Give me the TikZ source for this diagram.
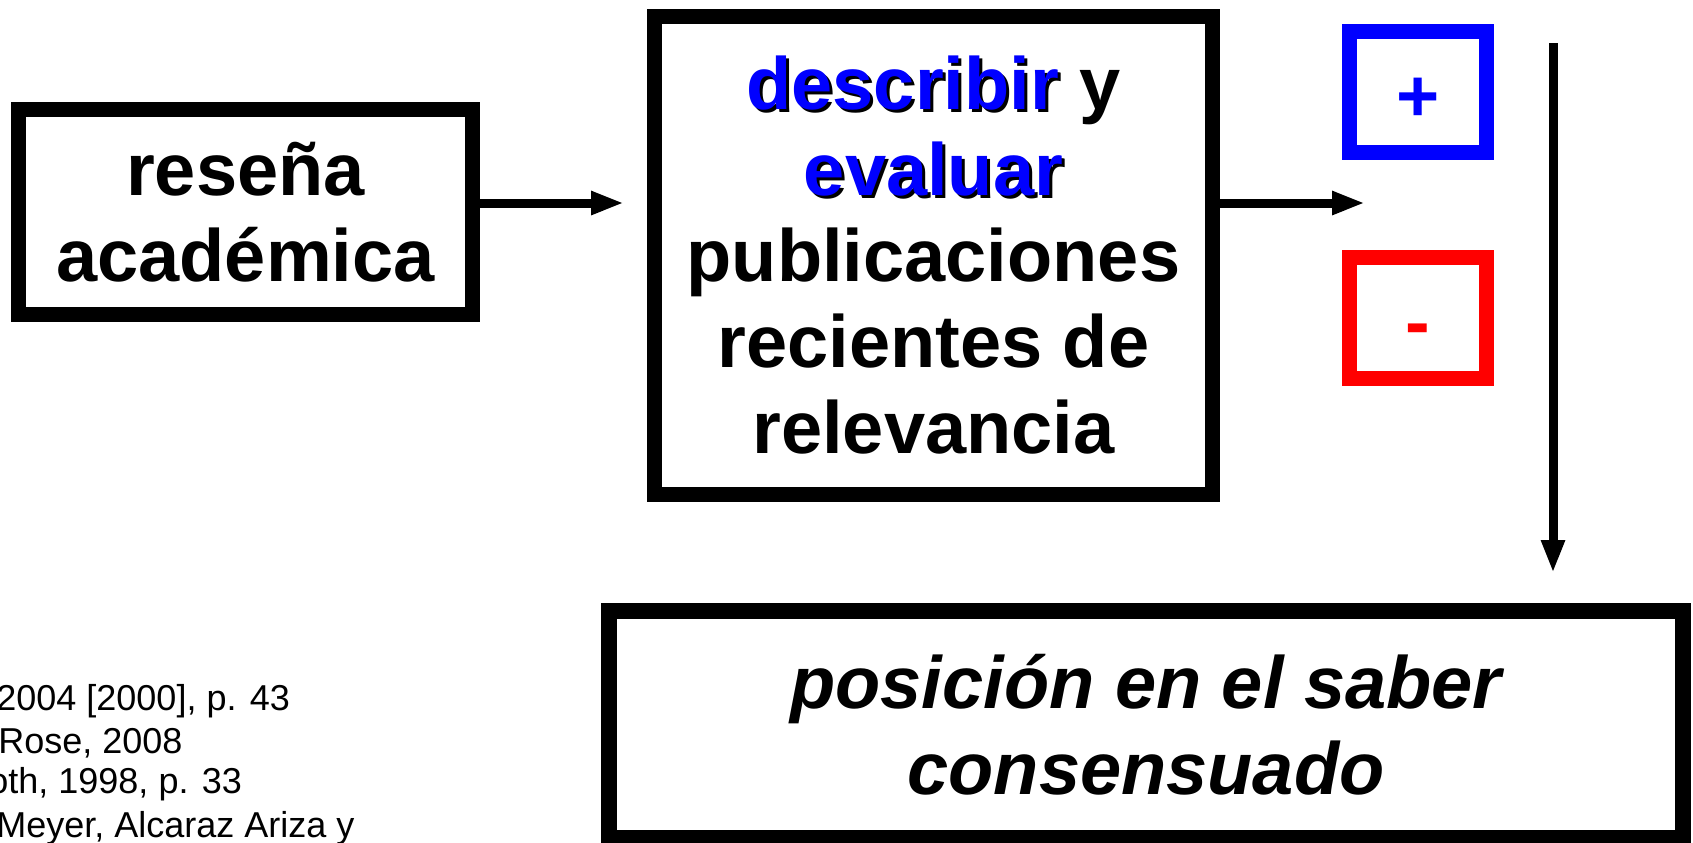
\documentclass[tikz,border=0pt]{standalone}
\usepackage{fontspec}
\setmainfont{Liberation Sans}
\usetikzlibrary{arrows.meta}
\newcommand\sombra[1]{\makebox[0pt][l]{\kern1.5pt\raisebox{-1.5pt}{\color{black}#1}}\textcolor{blue}{#1}}

\begin{document}
\begin{tikzpicture}[x=0.5pt,y=-0.5pt,
	caja/.style={rectangle,draw,line width=7.5pt,inner sep=0pt,align=center,font=\bfseries\fontsize{37}{43}\selectfont},
	signo/.style={rectangle,draw,line width=7.5pt,inner sep=0pt,minimum width=68.5pt,minimum height=60.5pt,text height=33pt,text depth=4pt,font=\bfseries\fontsize{37}{43}\selectfont},
	flecha/.style={line width=4.5pt,-{Triangle[length=16.5pt,width=11pt]}},
	fuente/.style={anchor=base west,inner sep=0pt,font=\fontsize{18}{21}\selectfont}]
\useasboundingbox (0,0) rectangle (1693,842);
\node[caja,minimum width=227pt,minimum height=102.5pt] (resena) at (245.5,212) {reseña\\académica};
\node[caja,minimum width=279pt,minimum height=239pt] (tarea) at (933.5,255.5) {\sombra{describir} y\\\sombra{evaluar}\\publicaciones\\recientes de\\relevancia};
\node[signo,draw=blue,text=blue] (mas) at (1418,92) {+};
\node[signo,draw=red,text=red] (menos) at (1418,318) {-};
\node[caja,line width=8pt,minimum width=537pt,minimum height=113.5pt,font=\bfseries\itshape\fontsize{37}{43}\selectfont] (saber) at (1146,724.5) {posición en el saber\\consensuado};

\coordinate (p1) at (624,203);
\coordinate (p2) at (1365,203);
\coordinate (v1) at (1553,43);
\coordinate (v2) at (1553,573);
\draw[flecha] (resena.east |- p1) -- (p1);
\draw[flecha] (tarea.east |- p2) -- (p2);
\draw[flecha] (v1) -- (v2);

\foreach \xo/\yo/\txt in {-4/710/{2004 [2000], p. 43},-2/753/{Rose, 2008},-12/793/{oth, 1998, p. 33},-4/837/{Meyer, Alcaraz Ariza y}}
	\node[fuente] (cita\yo) at (\xo,\yo) {\txt};
\end{tikzpicture}
\end{document}
